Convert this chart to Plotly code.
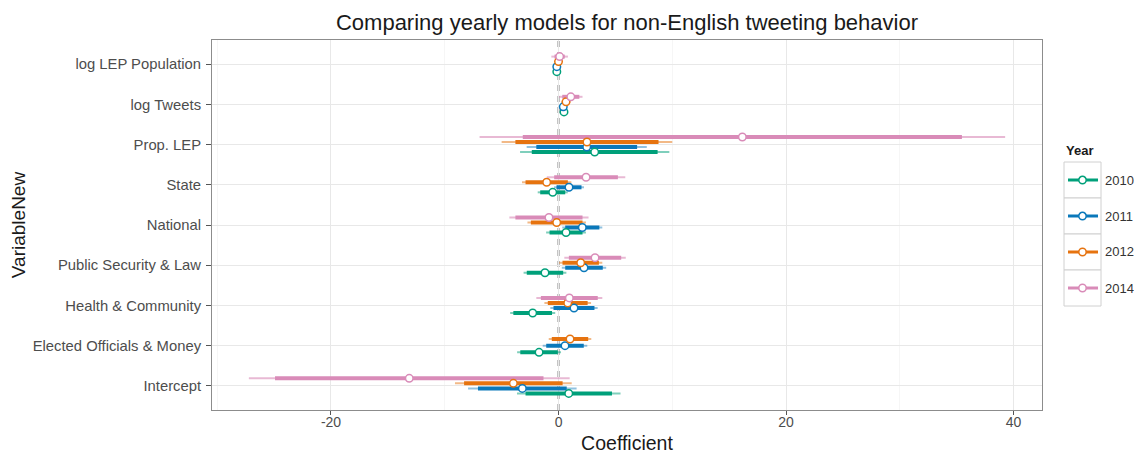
import plotly.graph_objects as go

# ---------------- data ----------------
variables = ["log LEP Population", "log Tweets", "Prop. LEP", "State", "National",
             "Public Security & Law", "Health & Community",
             "Elected Officials & Money", "Intercept"]
years = ["2010", "2011", "2012", "2014"]

coef_2010 = [-0.15, 0.48, 3.18, -0.51, 0.66, -1.19, -2.27, -1.71, 0.90]
outer_2010 = [0.25, 0.25, 6.56, 1.32, 1.75, 1.88, 1.98, 1.93, 4.55]
inner_2010 = [0.18, 0.18, 5.53, 1.10, 1.45, 1.60, 1.70, 1.65, 3.80]

coef_2011 = [-0.15, 0.42, 2.48, 0.92, 2.09, 2.24, 1.36, 0.57, -3.18]
outer_2011 = [0.25, 0.30, 5.28, 1.32, 1.76, 1.95, 2.08, 1.96, 4.77]
inner_2011 = [0.20, 0.25, 4.43, 1.10, 1.50, 1.65, 1.80, 1.65, 3.90]

coef_2012 = [0.00, 0.66, 2.50, -1.04, -0.16, 1.95, 0.81, 1.01, -3.97]
outer_2012 = [0.30, 0.40, 7.50, 2.17, 2.57, 1.90, 2.05, 1.87, 5.13]
inner_2012 = [0.25, 0.33, 6.29, 1.86, 2.27, 1.60, 1.75, 1.60, 4.33]

coef_2014 = [0.10, 1.08, 16.16, 2.42, -0.84, 3.21, 0.95, None, -13.12]
outer_2014 = [0.73, 1.03, 23.10, 3.45, 3.48, 2.70, 2.90, None, 14.10]
inner_2014 = [0.45, 0.75, 19.30, 2.80, 2.95, 2.30, 2.50, None, 11.80]

coefs = {"2010": coef_2010, "2011": coef_2011, "2012": coef_2012, "2014": coef_2014}
outers = {"2010": outer_2010, "2011": outer_2011, "2012": outer_2012, "2014": outer_2014}
inners = {"2010": inner_2010, "2011": inner_2011, "2012": inner_2012, "2014": inner_2014}

x_ticks = [-20, 0, 20, 40]

# ---------------- styling ----------------
colors = {"2010": "#00A07A", "2011": "#0A78BA", "2012": "#E6730F", "2014": "#D98BB8"}
thin_colors = {"2010": "rgba(0,160,122,0.5)", "2011": "rgba(10,120,186,0.45)",
               "2012": "rgba(230,115,15,0.5)", "2014": "rgba(217,139,184,0.6)"}
FONT = "Liberation Sans, Arial, sans-serif"

# page geometry (the page body has an 8px margin, so the figure is offset)
OX, OY = 8, 8
PAGE_W, PAGE_H = 1142, 454
FIG_W, FIG_H = PAGE_W - OX, PAGE_H - OY
PL, PT, PR, PB = 212, 40, 1042, 410   # plot panel in page pixels
PW, PH = PR - PL, PB - PT

def px2paper_x(px):
    return (px - PL) / PW
def px2paper_y(py):
    return (PB - py) / PH

n_var = len(variables)

# dodge positions (ggplot-style position_dodge, width 0.5)
ypos = {yr: [None] * n_var for yr in years}
for i in range(n_var):
    present = [yr for yr in years if coefs[yr][i] is not None]
    m = len(present)
    for k, yr in enumerate(present):
        ypos[yr][i] = (n_var - i) + (k - (m - 1) / 2) * (0.5 / m)

fig = go.Figure()

def seg_trace(yr, half, width, color):
    xs, ys = [], []
    for c, h, y in zip(coefs[yr], half[yr], ypos[yr]):
        if c is None:
            continue
        xs += [c - h, c + h, None]
        ys += [y, y, None]
    return go.Scatter(x=xs, y=ys, mode="lines", line=dict(color=color, width=width),
                      showlegend=False, hoverinfo="skip", legendgroup=yr, name=yr)

for yr in years:
    fig.add_trace(seg_trace(yr, outers, 2, thin_colors[yr]))
for yr in years:
    fig.add_trace(seg_trace(yr, inners, 4, colors[yr]))
for yr in years:
    xs = [c for c in coefs[yr] if c is not None]
    ys = [y for c, y in zip(coefs[yr], ypos[yr]) if c is not None]
    fig.add_trace(go.Scatter(x=xs, y=ys, mode="markers",
                             marker=dict(size=7.5, color="white",
                                         line=dict(color=colors[yr], width=1.5)),
                             showlegend=False, legendgroup=yr, name=yr))

# zero reference line
fig.add_shape(type="line", xref="x", yref="paper", x0=0, x1=0, y0=0, y1=1,
              line=dict(color="#9a9a9a", width=2.2, dash="6px,5px"), layer="between")

# ---------------- legend (ggplot-style keys) ----------------
KEY_L, KEY_R = 1064, 1101
KEY_TOP, KEY_H = 162, 36
for k, yr in enumerate(years):
    top = KEY_TOP + k * KEY_H
    cy = top + KEY_H / 2
    fig.add_shape(type="rect", xref="paper", yref="paper",
                  x0=px2paper_x(KEY_L), x1=px2paper_x(KEY_R),
                  y0=px2paper_y(top + KEY_H), y1=px2paper_y(top),
                  line=dict(color="#d0d0d0", width=1), fillcolor="white", layer="below")
    fig.add_shape(type="line", xref="paper", yref="paper",
                  x0=px2paper_x(KEY_L + 4), x1=px2paper_x(KEY_R - 3),
                  y0=px2paper_y(cy), y1=px2paper_y(cy),
                  line=dict(color=colors[yr], width=3), layer="above")
    r = 3.7
    cx = (KEY_L + KEY_R) / 2
    fig.add_shape(type="circle", xref="paper", yref="paper",
                  x0=px2paper_x(cx - r), x1=px2paper_x(cx + r),
                  y0=px2paper_y(cy + r), y1=px2paper_y(cy - r),
                  line=dict(color=colors[yr], width=1.5), fillcolor="white", layer="above")
    fig.add_annotation(text=yr, xref="paper", yref="paper",
                       x=px2paper_x(KEY_R + 2), y=px2paper_y(cy),
                       xanchor="left", yanchor="middle", showarrow=False,
                       font=dict(size=13, color="#333333", family=FONT))

fig.add_annotation(text="<b>Year</b>", xref="paper", yref="paper",
                   x=px2paper_x(KEY_L), y=px2paper_y(150), xanchor="left", yanchor="middle",
                   showarrow=False, font=dict(size=13, color="#1a1a1a", family=FONT))

fig.update_layout(
    width=FIG_W, height=FIG_H,
    margin=dict(l=PL - OX, r=FIG_W - (PR - OX), t=PT - OY, b=FIG_H - (PB - OY),
                autoexpand=False),
    paper_bgcolor="white", plot_bgcolor="white",
    font=dict(family=FONT, color="#333333", size=14),
    title=dict(text="Comparing yearly models for non-English tweeting behavior",
               x=0.5, xref="paper", xanchor="center",
               y=1 - (22 - OY) / FIG_H, yref="container", yanchor="middle",
               font=dict(size=22, color="#1a1a1a", family=FONT)),
    showlegend=False,
)

fig.update_xaxes(
    range=[-30.46, 42.5], tickvals=x_ticks, ticktext=[str(v) for v in x_ticks],
    showgrid=True, gridcolor="#e8e8e8", gridwidth=1,
    minor=dict(dtick=10, tick0=0, showgrid=True, gridcolor="#f6f6f6", gridwidth=1),
    zeroline=False, showline=True, linecolor="#8c8c8c", linewidth=1, mirror=True,
    ticks="outside", ticklen=4, tickcolor="#555555", tickwidth=1,
    tickfont=dict(size=14, color="#4d4d4d"), automargin=False, ticklabelstandoff=-5,
    title=dict(text="Coefficient", font=dict(size=19.5, color="#1a1a1a"), standoff=18),
)
fig.update_yaxes(
    range=[0.4, n_var + 0.6], tickvals=list(range(n_var, 0, -1)), ticktext=variables,
    showgrid=True, gridcolor="#e8e8e8", gridwidth=1,
    zeroline=False, showline=True, linecolor="#8c8c8c", linewidth=1, mirror=True,
    ticks="outside", ticklen=5, tickcolor="#555555", tickwidth=1,
    tickfont=dict(size=14.8, color="#4d4d4d"), automargin=False, ticklabelstandoff=2,
    title=dict(text="VariableNew", font=dict(size=19, color="#1a1a1a"), standoff=4),
)

fig.write_html("out.html")
